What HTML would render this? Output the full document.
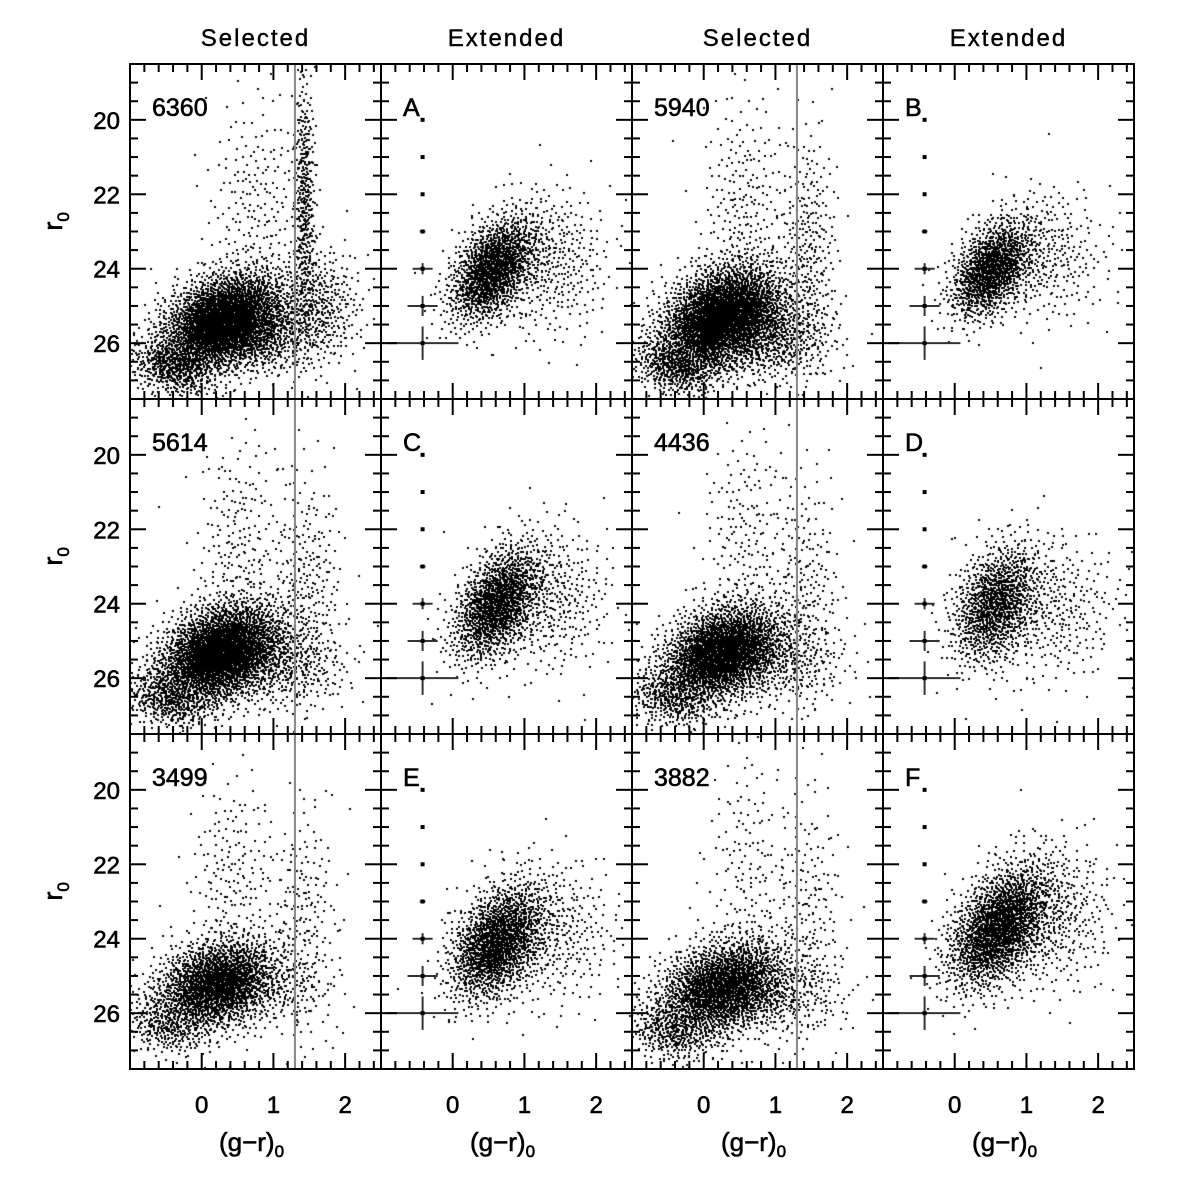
<!DOCTYPE html>
<html><head><meta charset="utf-8"><style>
html,body{margin:0;padding:0;background:#fff;}
#wrap{position:relative;width:1195px;height:1195px;}
canvas,svg{position:absolute;left:0;top:0;}
text{font-family:"Liberation Sans",sans-serif;fill:#000;}
</style></head><body>
<div id="wrap">
<canvas id="cv" width="1195" height="1195"></canvas>
<svg id="sv" width="1195" height="1195" xmlns="http://www.w3.org/2000/svg"></svg>
</div>
<script>
// ---- data ----
const panelLabels = ["6360","A","5940","B","5614","C","4436","D","3499","E","3882","F"];
const columnTitles = ["Selected","Extended","Selected","Extended"];
const panelCounts = [5200,1900,4900,1600,4600,1900,3700,1500,3000,2100,3200,2400];
// components: [centerColor, centerMag, sigmaColor, sigmaMag, corr, weight]
const comp6360 = [[0.3,25.4,0.42,0.65,-0.3,0.62],[-0.4,26.6,0.3,0.4,0.2,0.1],[1.42,22.2,0.07,1.7,0,0.08],[1.6,25.0,0.3,0.8,0,0.08],[0.75,22.3,0.35,1.5,0,0.04],[0.9,25.8,0.35,0.5,0,0.08]];
const compA = [[0.55,24.0,0.3,0.7,-0.45,0.78],[1.3,23.8,0.45,1.0,0,0.22]];
const comp5940 = [[0.25,25.3,0.42,0.7,-0.3,0.68],[-0.4,26.6,0.3,0.4,0.2,0.1],[1.45,23.5,0.2,1.6,0,0.06],[0.55,22.5,0.3,1.6,0,0.05],[1.0,25.8,0.4,0.6,0,0.11]];
const compB = [[0.5,24.0,0.28,0.65,-0.45,0.78],[1.2,23.6,0.45,0.9,0,0.22]];
const comp5614 = [[0.25,25.3,0.42,0.65,-0.3,0.7],[-0.45,26.5,0.3,0.4,0.2,0.1],[1.45,23.6,0.25,1.6,0,0.06],[0.5,22.6,0.3,1.6,0,0.05],[1.1,25.6,0.45,0.6,0,0.09]];
const compC = [[0.6,24.0,0.3,0.75,-0.45,0.78],[1.3,23.8,0.45,1.0,0,0.22]];
const comp4436 = [[0.25,25.3,0.42,0.65,-0.3,0.7],[-0.45,26.5,0.3,0.4,0.2,0.1],[1.4,23.6,0.25,1.6,0,0.06],[0.55,22.3,0.3,1.6,0,0.05],[1.1,25.5,0.45,0.6,0,0.09]];
const compD = [[0.55,24.0,0.3,0.8,-0.35,0.75],[1.3,24.1,0.5,1.0,0,0.25]];
const comp3499 = [[0.2,25.2,0.42,0.6,-0.25,0.72],[-0.5,26.3,0.3,0.4,0.2,0.1],[1.4,23.5,0.25,1.6,0,0.07],[0.4,22.3,0.3,1.4,0,0.06],[1.1,25.3,0.4,0.6,0,0.05]];
const compE = [[0.6,24.1,0.32,0.75,-0.4,0.8],[1.3,23.8,0.5,1.0,0,0.2]];
const comp3882 = [[0.25,25.3,0.45,0.65,-0.3,0.7],[-0.45,26.5,0.3,0.4,0.2,0.1],[1.45,23.3,0.25,1.7,0,0.06],[0.6,22.2,0.3,1.7,0,0.05],[1.1,25.5,0.45,0.6,0,0.09]];
const compF = [[0.6,23.7,0.35,0.8,-0.45,0.8],[1.3,23.3,0.45,1.0,0,0.2]];
const panelComps = [comp6360,compA,comp5940,compB,comp5614,compC,comp4436,compD,comp3499,compE,comp3882,compF];
const errMags = [20,21,22,23,24,25,26];
const errColor = [0.005,0.01,0.02,0.04,0.14,0.21,0.5];
const errMag = [0.005,0.01,0.02,0.05,0.15,0.27,0.45];
const errX = -0.42;
const cutColor = 1.3;
const xTicks = [0,1,2];
const yTicks = [20,22,24,26];
// ---- layout ----
const X0=130, Y0=64, PW=251, PH=335, XMIN=-1, XMAX=2.5, YMIN=18.5, YMAX=27.5;
function xs(c,v){return X0+c*PW+(v-XMIN)/(XMAX-XMIN)*PW;}
function ys(r,v){return Y0+r*PH+(v-YMIN)/(YMAX-YMIN)*PH;}
function halton(i,b){let f=1,r=0;while(i>0){f/=b;r+=f*(i%b);i=Math.floor(i/b);}return r;}
// ---- points ----
const ctx=document.getElementById('cv').getContext('2d');
ctx.fillStyle='#000';
for(let p=0;p<12;p++){
  const r=Math.floor(p/4), c=p%4, comps=panelComps[p], n=panelCounts[p];
  ctx.save();ctx.beginPath();ctx.rect(X0+c*PW,Y0+r*PH,PW,PH);ctx.clip();
  let tot=comps.reduce((s,k)=>s+k[5],0);
  let idx=1+p*9973;
  for(const k of comps){
    const m=Math.round(n*k[5]/tot);
    for(let j=0;j<m;j++,idx++){
      const u1=Math.max(1e-6,halton(idx,2)), u2=halton(idx,3);
      const rr=Math.sqrt(-2*Math.log(u1));
      const z1=rr*Math.cos(2*Math.PI*u2), z2=rr*Math.sin(2*Math.PI*u2);
      const gx=k[0]+k[2]*z1;
      const gy=k[1]+k[3]*(k[4]*z1+Math.sqrt(1-k[4]*k[4])*z2);
      ctx.fillRect(Math.round(xs(c,gx)),Math.round(ys(r,gy)),2,2);
    }
  }
  ctx.restore();
}
// ---- axes ----
const sv=document.getElementById('sv'), NS='http://www.w3.org/2000/svg';
function mk(tag,attrs,parent){const e=document.createElementNS(NS,tag);for(const a in attrs)e.setAttribute(a,attrs[a]);(parent||sv).appendChild(e);return e;}
function line(x1,y1,x2,y2,col,w,g){return mk('line',{x1,y1,x2,y2,stroke:col||'#000','stroke-width':w||2},g);}
for(let p=0;p<12;p++){
  const r=Math.floor(p/4), c=p%4;
  const g=mk('g',{});
  
  
  const px=X0+c*PW, py=Y0+r*PH;
  if(c%2===0){
    const l=line(xs(c,cutColor),py,xs(c,cutColor),py+PH,'#888',2,g);
    
    
  } else {
    for(let i=0;i<errMags.length;i++){
      const ex=xs(c,errX), ey=ys(r,errMags[i]);
      const hx=Math.max(1.5,errColor[i]/(XMAX-XMIN)*PW), hy=Math.max(1.5,errMag[i]/(YMAX-YMIN)*PH);
      const e1=line(ex-hx,ey,ex+hx,ey,'#333',2,g);
      
      
      line(ex,ey-hy,ex,ey+hy,'#333',2,g);
      mk('rect',{x:ex-2,y:ey-2,width:4,height:4,fill:'#000'},g);
    }
  }
  for(let v=-1;v<=2.5001;v+=0.2){
    const maj=Math.abs(v-Math.round(v))<1e-6, L=maj?16:8, x=xs(c,v);
    line(x,py,x,py+L,'#000',2,g);line(x,py+PH,x,py+PH-L,'#000',2,g);
  }
  for(let v=18.5;v<=27.5001;v+=0.5){
    const maj=(Math.abs(v-Math.round(v))<1e-6 && Math.round(v)%2===0), L=maj?16:8, y=ys(r,v);
    line(px,y,px+L,y,'#000',2,g);line(px+PW,y,px+PW-L,y,'#000',2,g);
  }
  mk('rect',{x:px,y:py,width:PW,height:PH,fill:'none',stroke:'#000','stroke-width':2},g);
  const t=mk('text',{x:px+22,y:py+52,'font-size':25,stroke:'#000','stroke-width':0.6},g);t.textContent=panelLabels[p];
  
  
  if(c===0){
    for(const v of yTicks){const tt=mk('text',{x:px-10,y:ys(r,v)+9,'font-size':24,'text-anchor':'end',stroke:'#000','stroke-width':0.6});tt.textContent=v;
      
      }
    const yl=mk('text',{x:0,y:0,'font-size':27,stroke:'#000','stroke-width':0.6,transform:'translate(62,'+(py+PH*0.47)+') rotate(-90)','text-anchor':'middle'});
    yl.innerHTML='r<tspan font-size="17" dy="7">0</tspan>';
    
    
  }
  if(r===2){
    for(const v of xTicks){const tt=mk('text',{x:xs(c,v),y:py+PH+44,'font-size':24,'text-anchor':'middle',stroke:'#000','stroke-width':0.6});tt.textContent=v;
      
      }
    const xl=mk('text',{x:px+PW/2-4,y:py+PH+82,'font-size':26,'text-anchor':'middle',stroke:'#000','stroke-width':0.6});
    xl.innerHTML='(g−r)<tspan font-size="17" dy="6">0</tspan>';
    
    
  }
  if(r===0){
    const ct=mk('text',{x:px+PW/2,y:46,'font-size':24,'text-anchor':'middle','letter-spacing':'2',stroke:'#000','stroke-width':0.4});ct.textContent=columnTitles[c];
    
    
  }
}
</script>
</body></html>
